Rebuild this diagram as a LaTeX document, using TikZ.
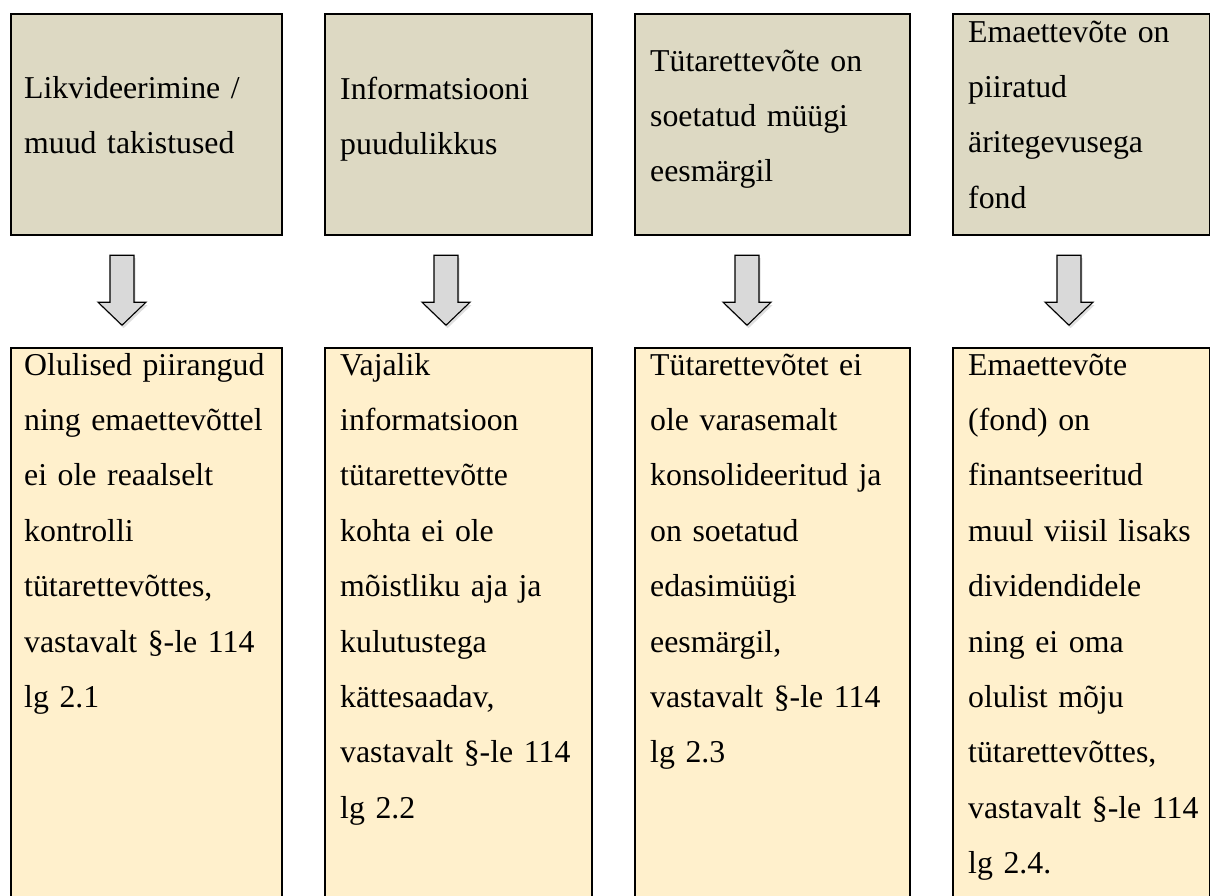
\documentclass[tikz,border=0pt]{standalone}
\usepackage{fontspec}
\setmainfont{Liberation Serif}
\usetikzlibrary{calc,shadows}
\definecolor{causefill}{HTML}{DDD9C3}
\definecolor{rulefill}{HTML}{FFF0CC}
\tikzset{
  causebox/.style ={draw=black, line width=2.2pt, fill=causefill, anchor=north west,
                    minimum height=221pt, inner sep=0pt},
  rulebox/.style  ={draw=black, line width=2.2pt, fill=rulefill, anchor=north west,
                    minimum height=560pt, inner sep=0pt},
  txt/.style      ={anchor=base west, inner sep=0pt, align=left, text width=262pt,
                    font=\fontsize{31.8}{55.4}\selectfont},
  dnarrow/.pic    ={\draw[draw=black, line width=1.1pt, fill=black!15,
                      drop shadow={shadow xshift=1.5pt, shadow yshift=-3pt, opacity=.25}]
                      (-12,0) -- (12,0) -- (12,47) -- (24,47) -- (0,70) -- (-24,47) -- (-12,47) -- cycle;},
}
\begin{document}
\begin{tikzpicture}[x=1pt, y=-1pt]
\path[use as bounding box] (0,0) rectangle (1210,895);
\clip (0,0) rectangle (1210,895);
% top row: reasons
\node[causebox, minimum width=271pt] (cause1) at (10,13) {};
\node[causebox, minimum width=267pt] (cause2) at (324,13) {};
\node[causebox, minimum width=275pt] (cause3) at (634,13) {};
\node[causebox, minimum width=256.5pt] (cause4) at (952,13) {};
\node[txt] (ctext1) at ($(cause1.north west)+(14,85)$) {Likvideerimine /\\muud takistused};
\node[txt] (ctext2) at ($(cause2.north west)+(16,86)$) {Informatsiooni\\puudulikkus};
\node[txt] (ctext3) at ($(cause3.north west)+(16,58)$) {Tütarettevõte on\\soetatud müügi\\eesmärgil};
\node[txt] (ctext4) at ($(cause4.north west)+(16,29)$) {Emaettevõte on\\piiratud\\äritegevusega\\fond};
% bottom row: consequences
\node[rulebox, minimum width=271pt] (rule1) at (10,347) {};
\node[rulebox, minimum width=267pt] (rule2) at (324,347) {};
\node[rulebox, minimum width=275pt] (rule3) at (634,347) {};
\node[rulebox, minimum width=256.5pt] (rule4) at (952,347) {};
\node[txt] (rtext1) at ($(rule1.north west)+(14,28)$) {Olulised piirangud\\ning emaettevõttel\\ei ole reaalselt\\kontrolli\\tütarettevõttes,\\vastavalt §-le 114\\lg 2.1};
\node[txt] (rtext2) at ($(rule2.north west)+(16,28)$) {Vajalik\\informatsioon\\tütarettevõtte\\kohta ei ole\\mõistliku aja ja\\kulutustega\\kättesaadav,\\vastavalt §-le 114\\lg 2.2};
\node[txt] (rtext3) at ($(rule3.north west)+(16,28)$) {Tütarettevõtet ei\\ole varasemalt\\konsolideeritud ja\\on soetatud\\edasimüügi\\eesmärgil,\\vastavalt §-le 114\\lg 2.3};
\node[txt] (rtext4) at ($(rule4.north west)+(16,28)$) {Emaettevõte\\(fond) on\\finantseeritud\\muul viisil lisaks\\dividendidele\\ning ei oma\\olulist mõju\\tütarettevõttes,\\vastavalt §-le 114\\lg 2.4.};
% block arrows
\coordinate (a1) at ($(cause1.south west)+(112,19)$);
\coordinate (a2) at ($(cause2.south west)+(122,19)$);
\coordinate (a3) at ($(cause3.south west)+(113,19)$);
\coordinate (a4) at ($(cause4.south west)+(117,19)$);
\pic at (a1) {dnarrow}; \pic at (a2) {dnarrow};
\pic at (a3) {dnarrow}; \pic at (a4) {dnarrow};
\end{tikzpicture}
\end{document}
